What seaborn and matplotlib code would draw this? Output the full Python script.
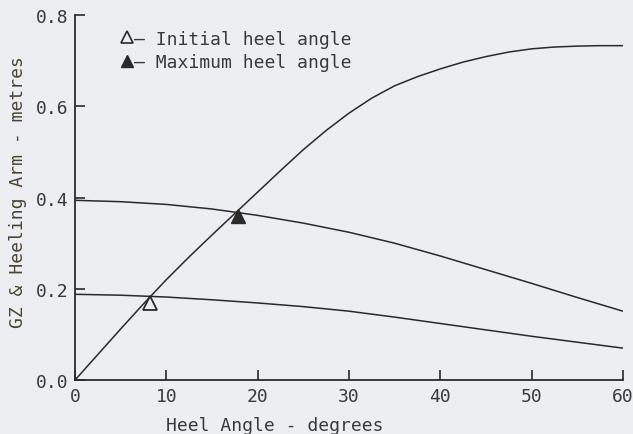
import pandas as pd
import numpy as np
import matplotlib
matplotlib.use('Agg')
import matplotlib.pyplot as plt
import seaborn as sns
from matplotlib.lines import Line2D

# --- values ---
gz_deg = [0, 2.5, 5, 7.5, 10, 12.5, 15, 17.5, 20, 22.5, 25, 27.5, 30,
          32.5, 35, 37.5, 40, 42.5, 45, 47.5, 50, 52.5, 55, 57.5, 60]
gz = [0.0, 0.056, 0.112, 0.167, 0.220, 0.270, 0.318, 0.365, 0.412, 0.459,
      0.505, 0.547, 0.585, 0.618, 0.645, 0.665, 0.682, 0.697, 0.709, 0.719,
      0.726, 0.730, 0.732, 0.733, 0.733]

arm_deg = [0, 5, 10, 15, 20, 25, 30, 35, 40, 45, 50, 55, 60]
heel_arm_high = [0.394, 0.391, 0.385, 0.375, 0.361, 0.344, 0.324, 0.300, 0.272, 0.242, 0.212, 0.181, 0.151]
heel_arm_low = [0.188, 0.186, 0.182, 0.176, 0.169, 0.161, 0.151, 0.138, 0.124, 0.110, 0.096, 0.083, 0.070]

initial_pt = (8.2, 0.169)
maximum_pt = (17.8, 0.360)

x_ticks = [0, 10, 20, 30, 40, 50, 60]
y_ticks = [0.0, 0.2, 0.4, 0.6, 0.8]

sns.set_style('ticks')
plt.rcParams['font.family'] = ['DejaVu Sans Mono', 'DejaVu Sans']

bg = '#eceef1'
ink = '#2a2a2a'
text_col = '#3a3a3a'
fs = 13

df = pd.concat([
    pd.DataFrame({'heel': gz_deg, 'arm': gz, 'curve': 'GZ'}),
    pd.DataFrame({'heel': arm_deg, 'arm': heel_arm_high, 'curve': 'high'}),
    pd.DataFrame({'heel': arm_deg, 'arm': heel_arm_low, 'curve': 'low'}),
], ignore_index=True)

fig = plt.figure(figsize=(6.33, 4.35), dpi=100, facecolor=bg)
ax = fig.add_axes([0.1185, 0.124, 0.8655, 0.839])
ax.set_facecolor(bg)

sns.lineplot(data=df, x='heel', y='arm', units='curve', estimator=None,
             color=ink, linewidth=1.1, ax=ax, legend=False)

ax.plot(*initial_pt, marker='^', markersize=10, markerfacecolor='none',
        markeredgecolor=ink, markeredgewidth=1.3, linestyle='none')
ax.plot(*maximum_pt, marker='^', markersize=10, color=ink, linestyle='none')

ax.set_xlim(0, 60)
ax.set_ylim(0, 0.8)
ax.set_xticks(x_ticks)
ax.set_yticks(y_ticks)
ax.set_xticklabels([str(t) for t in x_ticks])
ax.set_yticklabels([f'{t:.1f}' for t in y_ticks])
ax.tick_params(direction='in', length=7.2, width=1.2, colors=ink,
               labelcolor=text_col, labelsize=fs, pad=5)
for side in ['top', 'right']:
    ax.spines[side].set_visible(False)
for side in ['left', 'bottom']:
    ax.spines[side].set_linewidth(1.3)
    ax.spines[side].set_color(ink)

ax.set_xlabel('Heel Angle - degrees', fontsize=fs, color=text_col)
ax.set_ylabel('GZ & Heeling Arm - metres', fontsize=fs, color='#4a4530')
ax.xaxis.set_label_coords(0.365, -0.098)
ax.yaxis.set_label_coords(-0.088, 0.518)

handles = [Line2D([], [], marker='^', markersize=9, markerfacecolor='none',
                  markeredgecolor=ink, markeredgewidth=1.2, linestyle='none'),
           Line2D([], [], marker='^', markersize=9, color=ink, linestyle='none')]
ax.legend(handles, ['– Initial heel angle', '– Maximum heel angle'],
          loc='upper left', bbox_to_anchor=(0.055, 1.0), frameon=False,
          handlelength=0.8, handletextpad=0.0, labelspacing=0.3,
          borderpad=0.3, prop={'size': fs}, labelcolor=text_col)

fig.savefig('out.png', dpi=100, facecolor=bg)
